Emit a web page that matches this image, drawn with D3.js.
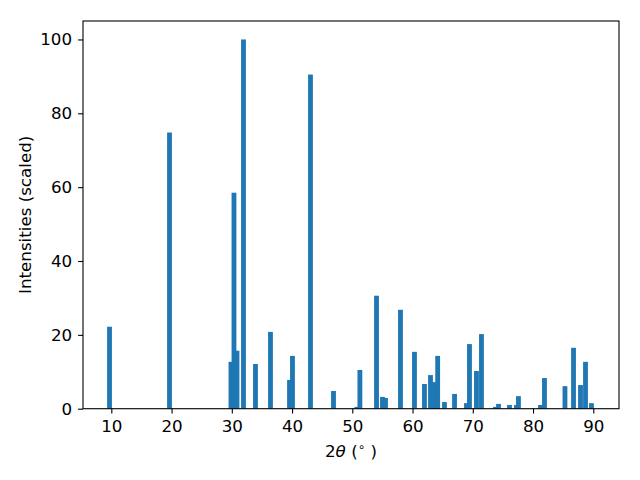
<!DOCTYPE html>
<html><head><meta charset="utf-8">
<script src="https://cdn.jsdelivr.net/npm/d3@7"></script>
<style>body{margin:0;background:#fff}</style>
</head><body>
<svg id="chart" width="640" height="480"></svg>
<script>
const positions = [9.70,19.66,29.86,30.36,30.86,31.94,33.93,36.42,39.58,40.07,43.06,46.88,50.76,51.26,54.02,55.01,55.51,58.00,60.32,61.98,62.98,63.67,64.00,64.17,65.30,66.97,68.95,69.45,70.61,71.44,73.77,74.27,76.09,77.25,77.58,81.24,81.90,85.30,86.72,87.88,88.71,89.70];
const intensities = [22.2,74.8,12.7,58.5,15.7,100,12.1,20.8,7.8,14.3,90.5,4.8,0.5,10.5,30.6,3.2,2.9,26.8,15.4,6.7,9.1,7.2,1.8,14.3,1.8,4.0,1.5,17.5,10.2,20.2,0.5,1.3,1.0,1.0,3.4,1.0,8.3,6.1,16.5,6.4,12.7,1.5];
const xTicks = [10,20,30,40,50,60,70,80,90];
const yTicks = [0,20,40,60,80,100];
const barWidth = 0.8;

const svg = d3.select("#chart");
const L = 83, R = 619, T = 21, B = 408.7;
const x = d3.scaleLinear().domain([5.30, 94.27]).range([L, R]);
const y = d3.scaleLinear().domain([0, 105]).range([B, T]);
const font = "DejaVu Sans, sans-serif";
const fs = 16.7;

svg.append("g").selectAll("rect").data(positions).enter().append("rect")
  .attr("x", (d) => x(d - barWidth/2))
  .attr("width", (d) => x(d + barWidth/2) - x(d - barWidth/2))
  .attr("y", (d,i) => y(intensities[i]))
  .attr("height", (d,i) => y(0) - y(intensities[i]))
  .attr("fill", "#1f77b4");

const xAxis = svg.append("g").attr("transform", `translate(0,${B})`)
  .call(d3.axisBottom(x).tickValues(xTicks).tickSize(4.9).tickPadding(7).tickFormat(d3.format("d")));
const yAxis = svg.append("g").attr("transform", `translate(${L},0)`)
  .call(d3.axisLeft(y).tickValues(yTicks).tickSize(4.9).tickPadding(6).tickFormat(d3.format("d")));
[xAxis, yAxis].forEach(a => {
  a.select(".domain").remove();
  a.selectAll("line").attr("stroke", "#000").attr("stroke-width", 1.1);
  a.selectAll("text").attr("font-family", font).attr("font-size", fs).attr("fill", "#000");
});

svg.append("rect").attr("x", L).attr("y", T).attr("width", R - L).attr("height", B - T)
  .attr("fill", "none").attr("stroke", "#000").attr("stroke-width", 1.1);

const xl = svg.append("text").attr("x", (L+R)/2).attr("y", 457).attr("text-anchor", "middle")
  .attr("font-family", font).attr("font-size", fs).attr("fill", "#000");
xl.append("tspan").text("2");
xl.append("tspan").attr("font-style", "italic").text("θ");
xl.append("tspan").text(" (");
xl.append("tspan").attr("font-size", 12).attr("dy", -6).text("∘");
xl.append("tspan").attr("dy", 6).text(" )");

svg.append("text").attr("transform", `translate(31,${(T+B)/2}) rotate(-90)`)
  .attr("text-anchor", "middle").attr("font-family", font).attr("font-size", fs).attr("fill", "#000")
  .text("Intensities (scaled)");
</script>
</body></html>
